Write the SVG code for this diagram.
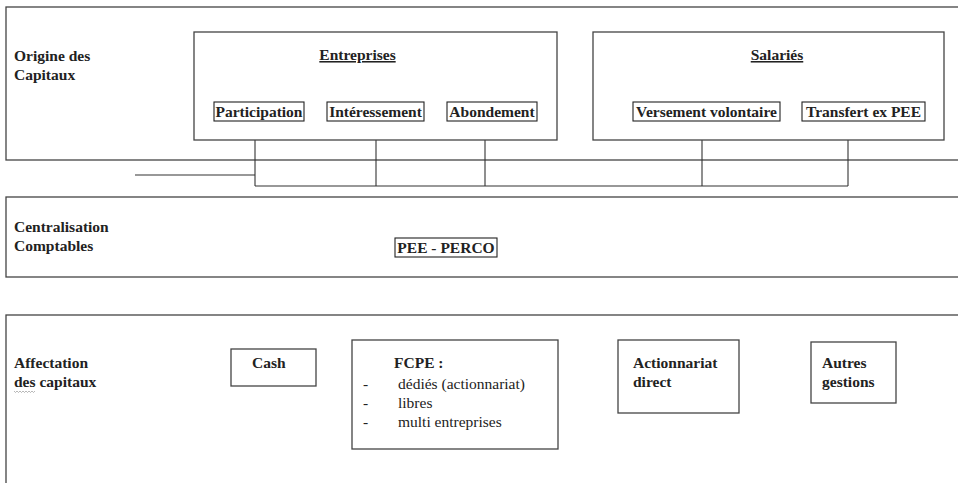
<svg xmlns="http://www.w3.org/2000/svg" width="958" height="483" viewBox="0 0 958 483">
  <style>
    .band { fill: none; stroke: #444; stroke-width: 1.3; }
    .box { fill: #fff; stroke: #444; stroke-width: 1.3; }
    .tag { fill: #fff; stroke: #222; stroke-width: 1.1; }
    .wire { fill: none; stroke: #333; stroke-width: 1.1; }
    text { font-size: 15.5px; fill: #222; }
    .b { font-weight: bold; }
    .u { text-decoration: underline; }
  </style>

  <rect width="958" height="483" fill="#fff"/>

  <g font-family="'Liberation Serif', 'Times New Roman', serif">
    <!-- Band 1: origin of funds -->
    <g id="band-origine">
      <rect class="band" x="6" y="7" width="1000" height="153"/>
      <text class="b" x="14" y="61">Origine des</text>
      <text class="b" x="14" y="80">Capitaux</text>
    </g>

    <!-- Connectors -->
    <g id="connectors">
      <line class="wire" x1="255" y1="139" x2="255" y2="186"/>
      <line class="wire" x1="376" y1="139" x2="376" y2="186"/>
      <line class="wire" x1="485" y1="139" x2="485" y2="186"/>
      <line class="wire" x1="702" y1="139" x2="702" y2="186"/>
      <line class="wire" x1="848" y1="139" x2="848" y2="186"/>
      <line class="wire" x1="255" y1="186" x2="848" y2="186"/>
      <line class="wire" x1="135" y1="175" x2="255" y2="175"/>
    </g>

    <g id="entreprises">
      <rect class="box" x="194" y="32" width="363" height="108"/>
      <text class="b u" x="357.5" y="60" text-anchor="middle">Entreprises</text>
    </g>
    <g id="participation">
      <rect class="tag" x="214" y="102" width="90" height="19"/>
      <text class="b" x="259" y="117" text-anchor="middle">Participation</text>
    </g>
    <g id="interessement">
      <rect class="tag" x="327" y="102" width="97" height="19"/>
      <text class="b" x="375.5" y="117" text-anchor="middle">Intéressement</text>
    </g>
    <g id="abondement">
      <rect class="tag" x="447" y="102" width="90" height="19"/>
      <text class="b" x="492" y="117" text-anchor="middle">Abondement</text>
    </g>

    <g id="salaries">
      <rect class="box" x="593" y="32" width="351" height="108"/>
      <text class="b u" x="777" y="60" text-anchor="middle">Salariés</text>
    </g>
    <g id="versement">
      <rect class="tag" x="633" y="102" width="147" height="19"/>
      <text class="b" x="706.5" y="117" text-anchor="middle">Versement volontaire</text>
    </g>
    <g id="transfert">
      <rect class="tag" x="802" y="102" width="123" height="19"/>
      <text class="b" x="863.5" y="117" text-anchor="middle">Transfert ex PEE</text>
    </g>

    <!-- Band 2: accounting centralisation -->
    <g id="band-centralisation">
      <rect class="band" x="6" y="197" width="1000" height="80"/>
      <text class="b" x="14" y="232">Centralisation</text>
      <text class="b" x="14" y="251">Comptables</text>
    </g>
    <g id="pee-perco">
      <rect class="tag" x="395" y="238" width="102" height="19"/>
      <text class="b" x="446" y="253" text-anchor="middle">PEE - PERCO</text>
    </g>

    <!-- Band 3: allocation of funds -->
    <g id="band-affectation">
      <rect class="band" x="6" y="315" width="1000" height="200"/>
      <text class="b" x="14" y="368">Affectation</text>
      <text class="b" x="14" y="387">des capitaux</text>
      <path d="M14 391 l1.5 1.5 l1.5 -1.5 l1.5 1.5 l1.5 -1.5 l1.5 1.5 l1.5 -1.5 l1.5 1.5 l1.5 -1.5 l1.5 1.5 l1.5 -1.5 l1.5 1.5 l1.5 -1.5 l1.5 1.5 l1.5 -1.5" fill="none" stroke="#999" stroke-width="0.7"/>
    </g>
    <g id="cash">
      <rect class="box" x="231" y="349" width="85" height="37"/>
      <text class="b" x="252" y="368">Cash</text>
    </g>
    <g id="fcpe">
      <rect class="box" x="352" y="340" width="206" height="109"/>
      <text class="b" x="394" y="368">FCPE :</text>
      <text x="363" y="389">-</text>
      <text x="398" y="389">dédiés (actionnariat)</text>
      <text x="363" y="408">-</text>
      <text x="398" y="408">libres</text>
      <text x="363" y="427">-</text>
      <text x="398" y="427">multi entreprises</text>
    </g>
    <g id="actionnariat">
      <rect class="box" x="618" y="340" width="121" height="73"/>
      <text class="b" x="633" y="368">Actionnariat</text>
      <text class="b" x="633" y="387">direct</text>
    </g>
    <g id="autres">
      <rect class="box" x="811" y="342" width="85" height="61"/>
      <text class="b" x="822" y="368">Autres</text>
      <text class="b" x="822" y="387">gestions</text>
    </g>
  </g>
</svg>
